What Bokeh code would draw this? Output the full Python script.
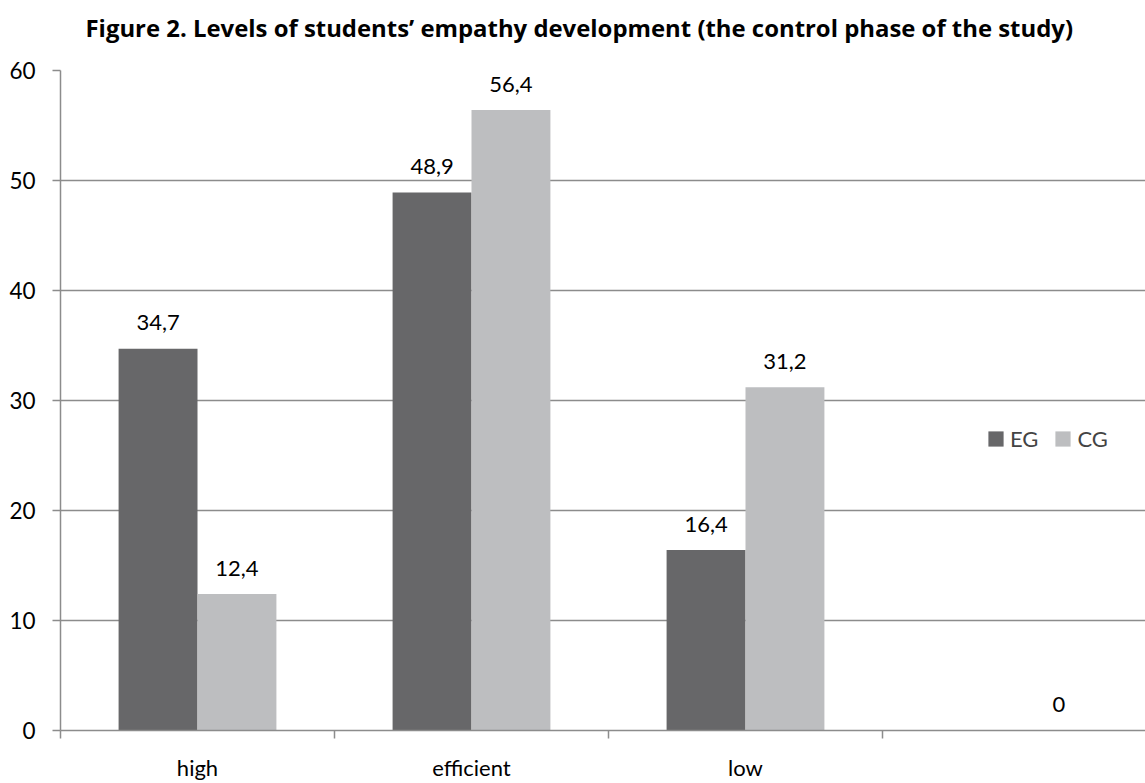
from bokeh.plotting import figure
from bokeh.models import ColumnDataSource, Range1d, FixedTicker, Legend, LegendItem, Title
from bokeh.transform import dodge
from bokeh.core.properties import value
from bokeh.embed import file_html
from bokeh.resources import INLINE

# ---- data ----
categories = ["high", "efficient", "low", ""]
eg_values = [34.7, 48.9, 16.4, float("nan")]
cg_values = [12.4, 56.4, 31.2, 0.0]
y_ticks = [0, 10, 20, 30, 40, 50, 60]
title_text = "Figure 2. Levels of students\u2019 empathy development (the control phase of the study)"


def fmt(v):
    if v != v:
        return ""
    if float(v).is_integer():
        return str(int(v))
    return f"{v:.1f}".replace(".", ",")


centers = [i + 0.5 for i in range(len(categories))]
src = ColumnDataSource(dict(
    x=centers,
    EG=eg_values,
    CG=cg_values,
    EG_lbl=[fmt(v) for v in eg_values],
    CG_lbl=[fmt(v) for v in cg_values],
))

EG_COLOR = "#676769"
CG_COLOR = "#bdbec0"
GRID = "#8c8c8c"
FONT = "Lato"

W, H = 1145, 783
PX_X = 274.0          # pixels per category
p = figure(width=W, height=H, output_backend="svg", toolbar_location=None,
           x_range=Range1d(0, (W - 60) / PX_X), y_range=Range1d(0, 60),
           min_border_left=60, min_border_right=0, min_border_top=70, min_border_bottom=53)
p.outline_line_color = None
p.background_fill_color = "white"

bw = 0.288
r_eg = p.vbar(x=dodge("x", -bw / 2), top="EG", width=bw, source=src,
              fill_color=EG_COLOR, line_color=None)
r_cg = p.vbar(x=dodge("x", bw / 2), top="CG", width=bw, source=src,
              fill_color=CG_COLOR, line_color=None)

common = dict(text_font=value(FONT), text_font_size="22px", text_color="#000000",
              text_align="center", text_baseline="alphabetic", y_offset=-26)
p.text(x=dodge("x", -bw / 2), y="EG", text="EG_lbl", source=src, **common)
p.text(x=dodge("x", bw / 2), y="CG", text="CG_lbl", source=src, **common)

# real title (outermost)
p.title.text = title_text
p.title.text_font = "Open Sans"
p.title.text_font_style = "bold"
p.title.text_font_size = "23.9px"
p.title.text_color = "#000000"
p.title.align = "left"
p.title.offset = 25
p.title.vertical_align = "top"
p.title.standoff = 4

# spacer between the title and the frame
spacer = Title(text=" ", text_font_size="10px", standoff=10)
p.add_layout(spacer, "above")

# y axis
ya = p.yaxis[0]
ya.ticker = FixedTicker(ticks=y_ticks, minor_ticks=[])
ya.axis_line_color = GRID
ya.axis_line_width = 1.5
ya.major_tick_line_color = GRID
ya.major_tick_line_width = 1.5
ya.major_tick_out = 8
ya.major_tick_in = 0
ya.minor_tick_line_color = None
ya.major_label_text_font = FONT
ya.major_label_text_font_size = "22.5px"
ya.major_label_text_color = "#000000"
ya.major_label_standoff = 17

# x axis
xa = p.xaxis[0]
xa.ticker = FixedTicker(ticks=centers, minor_ticks=list(range(len(categories) + 1)))
xa.major_label_overrides = {c: lab for c, lab in zip(centers, categories)}
xa.axis_line_color = GRID
xa.axis_line_width = 1.5
xa.major_tick_line_color = None
xa.major_tick_out = 0
xa.major_tick_in = 0
xa.minor_tick_line_color = GRID
xa.minor_tick_line_width = 1.5
xa.minor_tick_out = 8
xa.minor_tick_in = 0
xa.major_label_text_font = FONT
xa.major_label_text_font_size = "22px"
xa.major_label_text_color = "#000000"
xa.major_label_standoff = 15

p.xgrid.grid_line_color = None
p.ygrid.ticker = FixedTicker(ticks=y_ticks)
p.ygrid.grid_line_color = GRID
p.ygrid.grid_line_width = 1.5

legend = Legend(items=[LegendItem(label="EG", renderers=[r_eg]),
                       LegendItem(label="CG", renderers=[r_cg])],
                orientation="horizontal", location=(926, 278),
                glyph_width=19, glyph_height=19, label_standoff=5, spacing=15,
                padding=0, margin=0, border_line_color=None, background_fill_alpha=0,
                label_text_font=FONT, label_text_font_size="22px", label_height=15)
p.add_layout(legend, "center")

open("out.html", "w").write(file_html(p, INLINE))
